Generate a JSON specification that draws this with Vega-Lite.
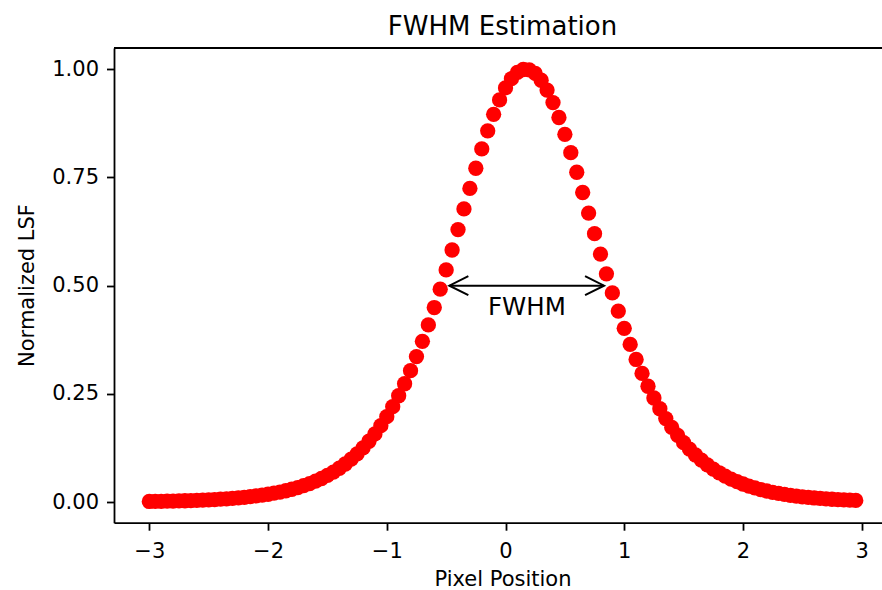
{
  "$schema": "https://vega.github.io/schema/vega-lite/v6.json",
  "autosize": {"type": "none"},
  "width": 768,
  "height": 474.7,
  "padding": {"left": 114, "top": 48, "right": 0, "bottom": 67.3},
  "background": "#ffffff",
  "title": {"text": "FWHM Estimation", "font": "DejaVu Sans", "fontSize": 26, "fontWeight": "normal", "color": "#000000", "anchor": "middle", "frame": "group", "dx": 4.5, "baseline": "alphabetic", "offset": -14},
  "config": {
    "view": {"stroke": null},
    "axis": {"grid": false, "domainColor": "#000000", "tickColor": "#000000", "labelColor": "#000000", "titleColor": "#000000", "labelFont": "DejaVu Sans", "titleFont": "DejaVu Sans", "labelFontSize": 21, "titleFontSize": 21, "titleFontWeight": "normal", "domainWidth": 1.8, "tickWidth": 1.8, "tickSize": 7.5}
  },
  "datasets": {
    "lsf": [
      {"pos": -3.00, "lsf": 0.00154}, {"pos": -2.95, "lsf": 0.00174}, {"pos": -2.90, "lsf": 0.00197}, {"pos": -2.85, "lsf": 0.00223},
      {"pos": -2.80, "lsf": 0.00253}, {"pos": -2.75, "lsf": 0.00286}, {"pos": -2.70, "lsf": 0.00324}, {"pos": -2.65, "lsf": 0.00366},
      {"pos": -2.60, "lsf": 0.00415}, {"pos": -2.55, "lsf": 0.00469}, {"pos": -2.50, "lsf": 0.00531}, {"pos": -2.45, "lsf": 0.00601},
      {"pos": -2.40, "lsf": 0.00680}, {"pos": -2.35, "lsf": 0.00770}, {"pos": -2.30, "lsf": 0.00871}, {"pos": -2.25, "lsf": 0.00985},
      {"pos": -2.20, "lsf": 0.01114}, {"pos": -2.15, "lsf": 0.01261}, {"pos": -2.10, "lsf": 0.01426}, {"pos": -2.05, "lsf": 0.01613},
      {"pos": -2.00, "lsf": 0.01824}, {"pos": -1.95, "lsf": 0.02062}, {"pos": -1.90, "lsf": 0.02331}, {"pos": -1.85, "lsf": 0.02634},
      {"pos": -1.80, "lsf": 0.02977}, {"pos": -1.75, "lsf": 0.03363}, {"pos": -1.70, "lsf": 0.03799}, {"pos": -1.65, "lsf": 0.04289},
      {"pos": -1.60, "lsf": 0.04842}, {"pos": -1.55, "lsf": 0.05463}, {"pos": -1.50, "lsf": 0.06162}, {"pos": -1.45, "lsf": 0.06947},
      {"pos": -1.40, "lsf": 0.07827}, {"pos": -1.35, "lsf": 0.08814}, {"pos": -1.30, "lsf": 0.09918}, {"pos": -1.25, "lsf": 0.11152},
      {"pos": -1.20, "lsf": 0.12529}, {"pos": -1.15, "lsf": 0.14063}, {"pos": -1.10, "lsf": 0.15767}, {"pos": -1.05, "lsf": 0.17656},
      {"pos": -1.00, "lsf": 0.19745}, {"pos": -0.95, "lsf": 0.22048}, {"pos": -0.90, "lsf": 0.24577}, {"pos": -0.85, "lsf": 0.27344},
      {"pos": -0.80, "lsf": 0.30360}, {"pos": -0.75, "lsf": 0.33628}, {"pos": -0.70, "lsf": 0.37154}, {"pos": -0.65, "lsf": 0.40933},
      {"pos": -0.60, "lsf": 0.44951}, {"pos": -0.55, "lsf": 0.49194}, {"pos": -0.50, "lsf": 0.53638}, {"pos": -0.45, "lsf": 0.58237},
      {"pos": -0.40, "lsf": 0.62952}, {"pos": -0.35, "lsf": 0.67719}, {"pos": -0.30, "lsf": 0.72469}, {"pos": -0.25, "lsf": 0.77120},
      {"pos": -0.20, "lsf": 0.81587}, {"pos": -0.15, "lsf": 0.85771}, {"pos": -0.10, "lsf": 0.89578}, {"pos": -0.05, "lsf": 0.92912},
      {"pos": 0.00, "lsf": 0.95685}, {"pos": 0.05, "lsf": 0.97818}, {"pos": 0.10, "lsf": 0.99250}, {"pos": 0.15, "lsf": 0.99939},
      {"pos": 0.20, "lsf": 0.99862}, {"pos": 0.25, "lsf": 0.99022}, {"pos": 0.30, "lsf": 0.97446}, {"pos": 0.35, "lsf": 0.95179},
      {"pos": 0.40, "lsf": 0.92288}, {"pos": 0.45, "lsf": 0.88851}, {"pos": 0.50, "lsf": 0.84962}, {"pos": 0.55, "lsf": 0.80713},
      {"pos": 0.60, "lsf": 0.76202}, {"pos": 0.65, "lsf": 0.71524}, {"pos": 0.70, "lsf": 0.66764}, {"pos": 0.75, "lsf": 0.62002},
      {"pos": 0.80, "lsf": 0.57307}, {"pos": 0.85, "lsf": 0.52735}, {"pos": 0.90, "lsf": 0.48330}, {"pos": 0.95, "lsf": 0.44128},
      {"pos": 1.00, "lsf": 0.40157}, {"pos": 1.05, "lsf": 0.36429}, {"pos": 1.10, "lsf": 0.32954}, {"pos": 1.15, "lsf": 0.29736},
      {"pos": 1.20, "lsf": 0.26771}, {"pos": 1.25, "lsf": 0.24052}, {"pos": 1.30, "lsf": 0.21569}, {"pos": 1.35, "lsf": 0.19311},
      {"pos": 1.40, "lsf": 0.17263}, {"pos": 1.45, "lsf": 0.15412}, {"pos": 1.50, "lsf": 0.13743}, {"pos": 1.55, "lsf": 0.12242},
      {"pos": 1.60, "lsf": 0.10894}, {"pos": 1.65, "lsf": 0.09687}, {"pos": 1.70, "lsf": 0.08607}, {"pos": 1.75, "lsf": 0.07642},
      {"pos": 1.80, "lsf": 0.06782}, {"pos": 1.85, "lsf": 0.06015}, {"pos": 1.90, "lsf": 0.05333}, {"pos": 1.95, "lsf": 0.04726},
      {"pos": 2.00, "lsf": 0.04186}, {"pos": 2.05, "lsf": 0.03707}, {"pos": 2.10, "lsf": 0.03282}, {"pos": 2.15, "lsf": 0.02905},
      {"pos": 2.20, "lsf": 0.02571}, {"pos": 2.25, "lsf": 0.02274}, {"pos": 2.30, "lsf": 0.02012}, {"pos": 2.35, "lsf": 0.01779},
      {"pos": 2.40, "lsf": 0.01573}, {"pos": 2.45, "lsf": 0.01391}, {"pos": 2.50, "lsf": 0.01230}, {"pos": 2.55, "lsf": 0.01087},
      {"pos": 2.60, "lsf": 0.00961}, {"pos": 2.65, "lsf": 0.00850}, {"pos": 2.70, "lsf": 0.00751}, {"pos": 2.75, "lsf": 0.00664},
      {"pos": 2.80, "lsf": 0.00586}, {"pos": 2.85, "lsf": 0.00518}, {"pos": 2.90, "lsf": 0.00458}, {"pos": 2.95, "lsf": 0.00405}
    ],
    "ann": [{"x1": -0.473, "x2": 0.83, "y": 0.5, "tx": 0.18, "ty": 0.433, "label": "FWHM"}]
  },
  "layer": [
    {
      "data": {"name": "lsf"},
      "mark": {"type": "circle", "color": "#ff0000", "opacity": 1, "size": 234},
      "encoding": {
        "x": {"field": "pos", "type": "quantitative", "scale": {"domain": [-3.2975, 3.171], "nice": false, "zero": false},
              "axis": {"orient": "bottom", "values": [-3, -2, -1, 0, 1, 2, 3], "format": "d", "labelPadding": 10, "title": "Pixel Position", "titleX": 388.5, "titleY": 62.8, "titleBaseline": "alphabetic"}},
        "y": {"field": "lsf", "type": "quantitative", "scale": {"domain": [-0.0475, 1.049], "nice": false, "zero": false},
              "axis": {"values": [0, 0.25, 0.5, 0.75, 1], "format": ".2f", "labelPadding": 8, "title": "Normalized LSF", "titleX": -80.7, "titleY": 237, "titleBaseline": "alphabetic", "titleAngle": -90}}
      }
    },
    {
      "data": {"name": "ann"},
      "mark": {"type": "rule", "color": "#000000", "strokeWidth": 1.8},
      "encoding": {
        "y": {"datum": 1.049, "type": "quantitative"}
      }
    },
    {
      "data": {"name": "ann"},
      "mark": {"type": "rule", "color": "#000000", "strokeWidth": 2},
      "encoding": {
        "x": {"field": "x1", "type": "quantitative"},
        "x2": {"field": "x2"},
        "y": {"field": "y", "type": "quantitative"}
      }
    },
    {
      "data": {"name": "ann"},
      "mark": {"type": "point", "shape": "M2,-1L0,0L2,1", "size": 361, "filled": false, "stroke": "#000000", "strokeWidth": 2, "opacity": 1},
      "encoding": {
        "x": {"field": "x1", "type": "quantitative"},
        "y": {"field": "y", "type": "quantitative"}
      }
    },
    {
      "data": {"name": "ann"},
      "mark": {"type": "point", "shape": "M-2,-1L0,0L-2,1", "size": 361, "filled": false, "stroke": "#000000", "strokeWidth": 2, "opacity": 1},
      "encoding": {
        "x": {"field": "x2", "type": "quantitative"},
        "y": {"field": "y", "type": "quantitative"}
      }
    },
    {
      "data": {"name": "ann"},
      "mark": {"type": "text", "font": "DejaVu Sans", "fontSize": 24.5, "color": "#000000", "align": "center", "baseline": "alphabetic"},
      "encoding": {
        "x": {"field": "tx", "type": "quantitative"},
        "y": {"field": "ty", "type": "quantitative"},
        "text": {"field": "label"}
      }
    }
  ]
}
